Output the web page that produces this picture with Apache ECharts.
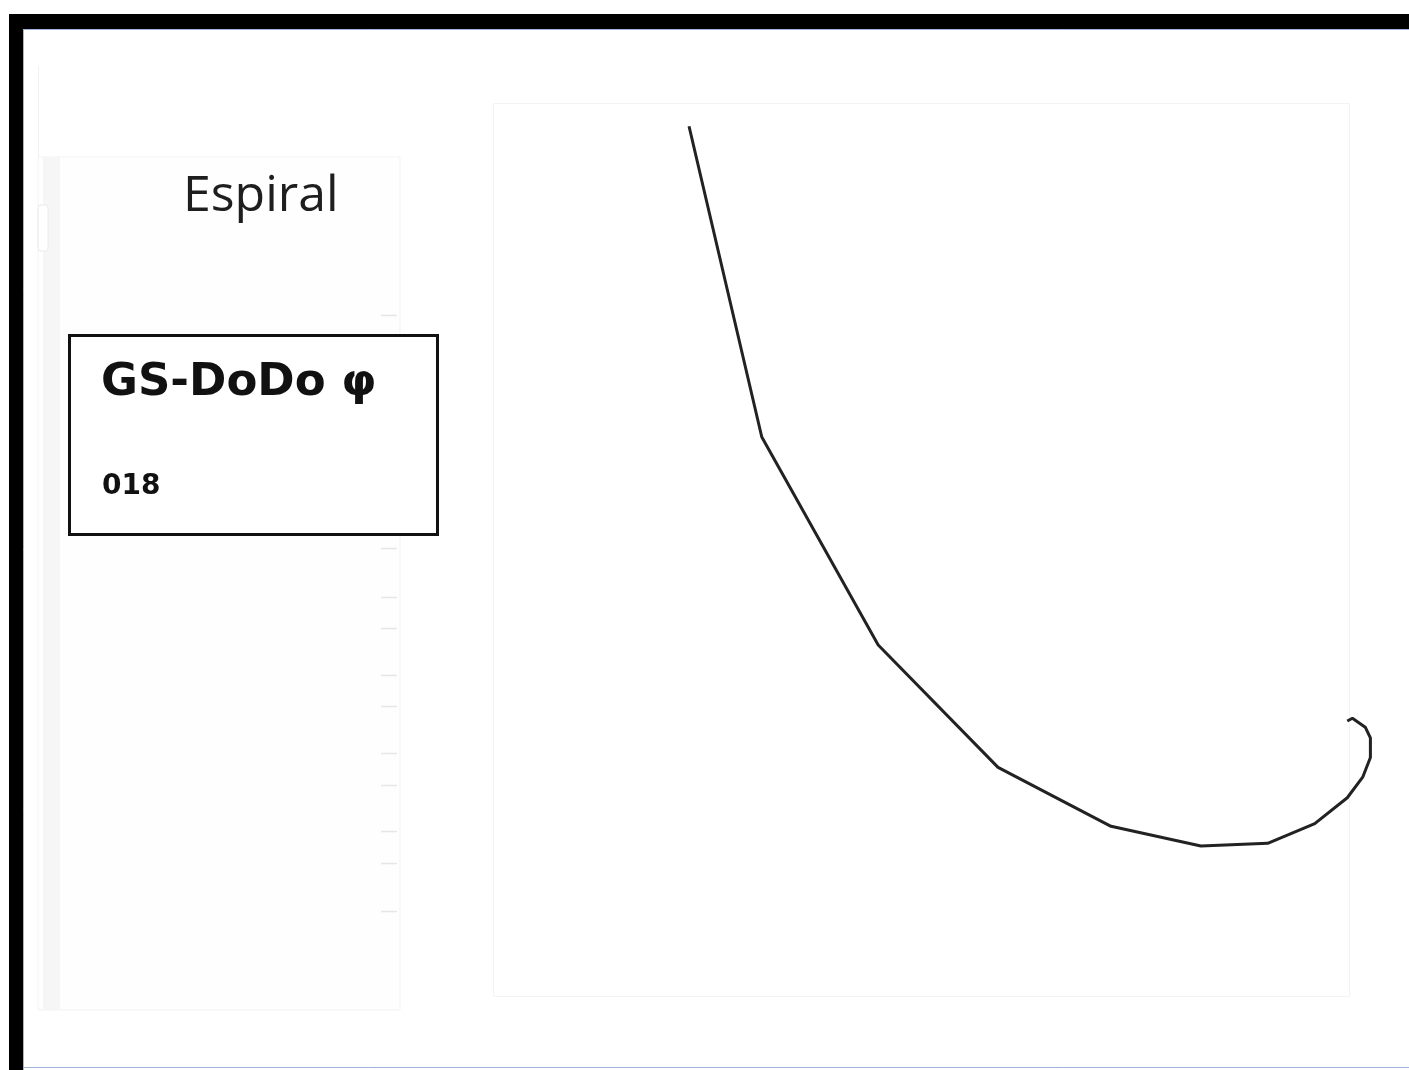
<!DOCTYPE html>
<html>
<head>
<meta charset="utf-8">
<style>
  html, body { margin: 0; padding: 0; background: #ffffff; }
  #chart { width: 1409px; height: 1070px; }
</style>
<script src="https://cdn.jsdelivr.net/npm/echarts@6/dist/echarts.min.js"></script>
</head>
<body>
<div id="chart"></div>
<script>
  // spiral path (x right, y up)
  const spiralX = [2.29, 3.14, 4.50, 5.90, 7.22, 8.27, 9.05, 9.60, 9.98, 10.16, 10.25, 10.25, 10.19, 10.04, 9.98];
  const spiralY = [9.74, 6.26, 3.93, 2.56, 1.90, 1.68, 1.71, 1.93, 2.22, 2.45, 2.67, 2.89, 3.01, 3.11, 3.08];
  const titleText = 'Espiral';
  const boxTitle = 'GS-DoDo φ';
  const boxCode = '018';
  const sideTicks = [315, 548, 597, 628, 675, 706, 753, 785, 831, 863, 911];

  const chart = echarts.init(document.getElementById('chart'));

  const chrome = [
    // window frame
    { type: 'rect', shape: { x: 9, y: 14, width: 1400, height: 15 }, style: { fill: '#000' }, z: 10 },
    { type: 'rect', shape: { x: 9, y: 14, width: 14, height: 1056 }, style: { fill: '#000' }, z: 10 },
    { type: 'line', shape: { x1: 23, y1: 29.5, x2: 1409, y2: 29.5 }, style: { stroke: '#9fb3dc', lineWidth: 1 }, z: 10 },
    { type: 'line', shape: { x1: 23.5, y1: 29, x2: 23.5, y2: 1070 }, style: { stroke: '#9fb3dc', lineWidth: 1 }, z: 10 },
    { type: 'line', shape: { x1: 23, y1: 1067.5, x2: 1409, y2: 1067.5 }, style: { stroke: '#9fb3dc', lineWidth: 1 }, z: 10 },
    // left side panel
    { type: 'rect', shape: { x: 38, y: 157, width: 362, height: 853 }, style: { fill: '#fefefe', stroke: '#f3f3f3', lineWidth: 1 }, z: 1 },
    { type: 'rect', shape: { x: 43, y: 157, width: 17, height: 853 }, style: { fill: '#f6f6f6' }, z: 2 },
    { type: 'line', shape: { x1: 38.5, y1: 66, x2: 38.5, y2: 157 }, style: { stroke: '#f0f0f0', lineWidth: 1 }, z: 2 },
    { type: 'rect', shape: { x: 38, y: 205, width: 10, height: 46, r: 3 }, style: { fill: '#fff', stroke: '#eaeaea', lineWidth: 1 }, z: 3 },
    // plot frame
    { type: 'rect', shape: { x: 493.5, y: 103.5, width: 856, height: 893 }, style: { fill: 'none', stroke: '#f3f3f3', lineWidth: 1 }, z: 1 },
    // label box
    { type: 'rect', shape: { x: 69.5, y: 335.5, width: 368, height: 199 }, style: { fill: '#fff', stroke: '#111', lineWidth: 3 }, z: 5 },
    { type: 'text', x: 101, y: 361, style: { text: boxTitle, fill: '#111', font: 'bold 45px "DejaVu Sans", sans-serif' }, z: 6 },
    { type: 'text', x: 102, y: 473, style: { text: boxCode, fill: '#111', font: 'bold 28px "DejaVu Sans", sans-serif' }, z: 6 }
  ];
  sideTicks.forEach((y) => {
    chrome.push({ type: 'line', shape: { x1: 381, y1: y + 0.5, x2: 397, y2: y + 0.5 }, style: { stroke: '#e6e6e6', lineWidth: 1.5 }, z: 2 });
  });

  chart.setOption({
    animation: false,
    backgroundColor: '#ffffff',
    title: {
      text: titleText,
      left: 178,
      top: 167,
      textStyle: { color: '#1e1e1e', fontSize: 50, fontWeight: 'normal', fontFamily: '"Open Sans", "Noto Sans", sans-serif' }
    },
    // x runs past 10 so the curl at the right is not cut
    grid: {
      left: 493,
      top: 103,
      width: 898.8,
      height: 893,
      show: false
    },
    xAxis: {
      type: 'value',
      min: 0,
      max: 10.5,
      show: false
    },
    yAxis: {
      type: 'value',
      min: 0,
      max: 10,
      show: false
    },
    graphic: chrome,
    series: [{
      type: 'line',
      data: spiralX.map((x, i) => [x, spiralY[i]]),
      showSymbol: false,
      clip: false,
      lineStyle: { color: '#222', width: 3 },
      z: 4
    }]
  });
</script>
</body>
</html>
